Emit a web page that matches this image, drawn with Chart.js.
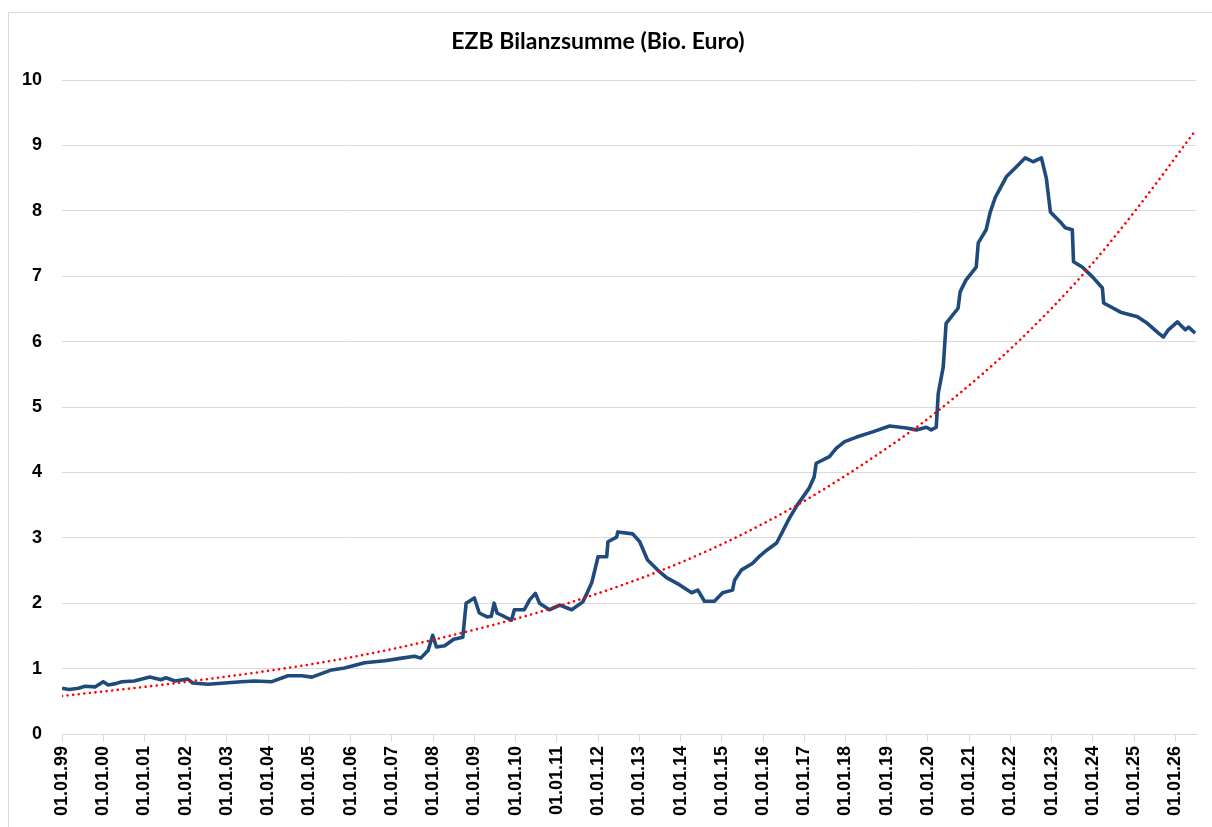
<!DOCTYPE html>
<html>
<head>
<meta charset="utf-8">
<title>EZB Bilanzsumme</title>
<script src="https://cdn.jsdelivr.net/npm/chart.js@4.4.1/dist/chart.umd.min.js"></script>
<style>
  html, body { margin: 0; padding: 0; background: #fff; overflow: hidden; }
  #frame {
    position: absolute; left: 8px; top: 12px;
    width: 1210px; height: 840px;
    border: 1px solid #d9d9d9;
  }
  #wrap { position: absolute; left: 0; top: 0; width: 1212px; height: 827px; }
</style>
</head>
<body>
<div id="frame"></div>
<div id="wrap"><canvas id="chart" width="1212" height="827"></canvas></div>
<script>
// ===============================
// DATA
// ===============================
const years = [
  1999.00, 1999.17, 1999.40, 1999.56, 1999.80, 2000.00, 2000.12, 2000.30, 2000.45, 2000.75,
  2001.13, 2001.40, 2001.52, 2001.74, 2002.05, 2002.17, 2002.54, 2002.95, 2003.35, 2003.67,
  2004.09, 2004.48, 2004.82, 2005.06, 2005.54, 2005.85, 2006.34, 2006.83, 2007.24, 2007.55,
  2007.70, 2007.88, 2007.99, 2008.08, 2008.28, 2008.50, 2008.72, 2008.80, 2009.00, 2009.12,
  2009.31, 2009.41, 2009.48, 2009.55, 2009.90, 2009.97, 2010.21, 2010.34, 2010.48, 2010.58,
  2010.82, 2011.07, 2011.36, 2011.63, 2011.73, 2011.85, 2012.00, 2012.21, 2012.24, 2012.45,
  2012.48, 2012.84, 2013.01, 2013.20, 2013.44, 2013.66, 2013.98, 2014.27, 2014.42, 2014.58,
  2014.82, 2015.02, 2015.26, 2015.31, 2015.48, 2015.75, 2015.92, 2016.09, 2016.33, 2016.47,
  2016.64, 2016.83, 2017.12, 2017.24, 2017.29, 2017.61, 2017.78, 2017.98, 2018.27, 2018.66,
  2019.07, 2019.48, 2019.72, 2019.96, 2020.08, 2020.20, 2020.25, 2020.37, 2020.44, 2020.73,
  2020.78, 2020.92, 2021.17, 2021.22, 2021.41, 2021.51, 2021.63, 2021.90, 2022.14, 2022.36,
  2022.55, 2022.75, 2022.87, 2022.97, 2023.21, 2023.33, 2023.50, 2023.53, 2023.74, 2023.99,
  2024.23, 2024.26, 2024.67, 2025.08, 2025.32, 2025.59, 2025.71, 2025.83, 2026.05, 2026.24,
  2026.32, 2026.48
];
const bilanzsumme = [
  0.70, 0.68, 0.70, 0.73, 0.72, 0.80, 0.75, 0.77, 0.80, 0.81,
  0.87, 0.83, 0.86, 0.81, 0.84, 0.78, 0.76, 0.78, 0.80, 0.81,
  0.80, 0.89, 0.89, 0.87, 0.98, 1.01, 1.09, 1.12, 1.16, 1.19,
  1.16, 1.28, 1.51, 1.33, 1.35, 1.45, 1.48, 2.00, 2.08, 1.85,
  1.79, 1.80, 2.00, 1.85, 1.74, 1.90, 1.90, 2.05, 2.15, 2.00,
  1.90, 1.97, 1.90, 2.02, 2.15, 2.32, 2.71, 2.71, 2.94, 3.01,
  3.09, 3.06, 2.94, 2.66, 2.51, 2.39, 2.28, 2.16, 2.20, 2.03,
  2.03, 2.16, 2.20, 2.35, 2.51, 2.61, 2.72, 2.81, 2.92, 3.09,
  3.30, 3.50, 3.76, 3.93, 4.14, 4.24, 4.37, 4.47, 4.54, 4.62,
  4.71, 4.68, 4.65, 4.69, 4.65, 4.69, 5.21, 5.61, 6.28, 6.51,
  6.76, 6.94, 7.14, 7.51, 7.71, 7.98, 8.20, 8.52, 8.67, 8.81,
  8.75, 8.81, 8.50, 7.98, 7.83, 7.74, 7.71, 7.22, 7.14, 6.99,
  6.82, 6.59, 6.45, 6.38, 6.28, 6.13, 6.07, 6.18, 6.30, 6.18,
  6.22, 6.13
];

// exponential trend line
const trendYears = [1999.00, 2002.05, 2005.54, 2008.00, 2011.07, 2014.22, 2016.77, 2019.07, 2020.28, 2022.22, 2023.79, 2025.05, 2026.50];
const trendValues = [0.58, 0.80, 1.12, 1.44, 1.96, 2.68, 3.48, 4.40, 4.96, 6.02, 7.05, 8.02, 9.24];

const yTicks = [0, 1, 2, 3, 4, 5, 6, 7, 8, 9, 10];

// ===============================
// CHART
// ===============================
const toPoints = (xs, ys) => xs.map((x, i) => ({ x: x, y: ys[i] }));
const tickFont = { family: "'Liberation Sans', Arial, sans-serif", size: 18, weight: "bold" };

new Chart(document.getElementById("chart").getContext("2d"), {
  type: "line",
  data: {
    datasets: [
      {
        label: "Trend",
        data: toPoints(trendYears, trendValues),
        borderColor: "#ff0000",
        borderWidth: 2.6,
        borderDash: [0.01, 5.6],
        borderCapStyle: "round",
        cubicInterpolationMode: "monotone",
        pointRadius: 0,
        fill: false
      },
      {
        label: "EZB Bilanzsumme",
        data: toPoints(years, bilanzsumme),
        borderColor: "#1f4a7c",
        borderWidth: 3.6,
        borderJoinStyle: "round",
        tension: 0,
        pointRadius: 0,
        fill: false
      }
    ]
  },
  options: {
    responsive: false,
    animation: false,
    layout: { padding: { left: 0, right: 16, top: 0, bottom: 0 } },
    plugins: {
      legend: { display: false },
      tooltip: { enabled: false },
      title: {
        display: true,
        text: "EZB Bilanzsumme (Bio. Euro)",
        color: "#000",
        font: { family: "Lato, 'Open Sans', sans-serif", size: 23, weight: "bold" },
        padding: { top: 28, bottom: 24.4 }
      }
    },
    scales: {
      x: {
        type: "linear",
        min: 1999,
        max: 2026.5,
        afterFit: (scale) => { scale.height = 93; },
        grid: {
          drawOnChartArea: false,
          drawTicks: true,
          tickLength: 8,
          color: "#d9d9d9"
        },
        border: { display: true, color: "#d9d9d9", width: 1 },
        ticks: {
          stepSize: 1,
          includeBounds: false,
          autoSkip: false,
          minRotation: 90,
          maxRotation: 90,
          padding: 4,
          color: "#000",
          font: tickFont,
          callback: (v) => Number.isInteger(v) ? "01.01." + String(v).slice(2) : ""
        }
      },
      y: {
        min: 0,
        max: 10,
        afterFit: (scale) => { scale.width = 62; },
        afterBuildTicks: (scale) => { scale.ticks = yTicks.map(v => ({ value: v })); },
        grid: { color: "#d9d9d9", lineWidth: 1, drawTicks: false },
        border: { display: false },
        ticks: {
          padding: 20,
          color: "#000",
          font: tickFont
        }
      }
    }
  }
});
</script>
</body>
</html>
